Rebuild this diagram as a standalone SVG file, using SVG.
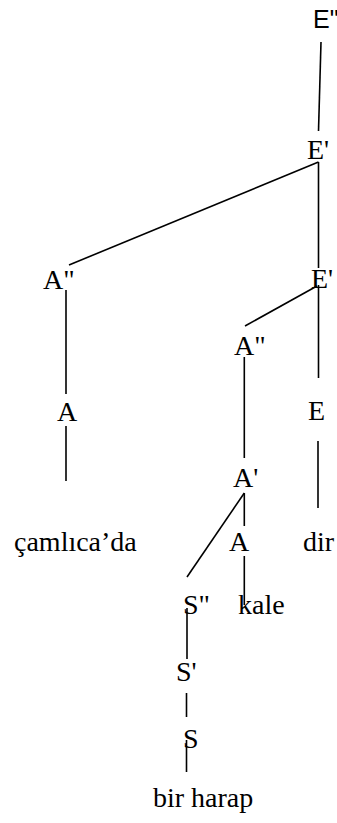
<svg xmlns="http://www.w3.org/2000/svg" width="337" height="823" viewBox="0 0 337 823">
<style>
.t{font-family:"Liberation Serif","Times New Roman",serif;font-size:28px;fill:#000}
.s{font-family:"Liberation Sans",Arial,sans-serif;font-size:25px;fill:#000}
.c line{stroke:#000;stroke-width:1.6;fill:none}
</style>
<rect width="337" height="823" fill="#fff"/>
<g class="c" id="connectors">
<line x1="321" y1="42" x2="318.5" y2="131"/>
<line x1="318.5" y1="162" x2="69" y2="265"/>
<line x1="318.5" y1="162" x2="318.5" y2="268"/>
<line x1="66" y1="290" x2="66" y2="394"/>
<line x1="66" y1="426" x2="66" y2="481"/>
<line x1="317" y1="286" x2="245" y2="326"/>
<line x1="318.5" y1="285" x2="318.5" y2="378"/>
<line x1="244.3" y1="357" x2="244.3" y2="458"/>
<line x1="318" y1="441" x2="318" y2="508"/>
<line x1="244.3" y1="493" x2="187" y2="577"/>
<line x1="244.3" y1="493" x2="244.3" y2="526"/>
<line x1="244.3" y1="556" x2="244.3" y2="605"/>
<line x1="187" y1="608" x2="187" y2="659"/>
<line x1="186.5" y1="693" x2="186.5" y2="717"/>
<line x1="186.5" y1="740" x2="186.5" y2="772"/>
</g>
<g id="n-E2"><text class="s" x="313" y="28">E"</text></g>
<g id="n-E1a"><text class="t" x="307" y="159">E'</text></g>
<g id="n-A2a"><text class="t" x="43" y="289">A"</text></g>
<g id="n-E1b"><text class="t" x="311" y="288">E'</text></g>
<g id="n-A2b"><text class="t" x="234" y="355">A"</text></g>
<g id="n-Aa"><text class="t" x="57" y="421">A</text></g>
<g id="n-E"><text class="t" x="308" y="420">E</text></g>
<g id="n-A1"><text class="t" x="233" y="487">A'</text></g>
<g id="n-camlica"><text class="t" x="14" y="551">çamlıca’da</text></g>
<g id="n-Ab"><text class="t" x="229" y="551">A</text></g>
<g id="n-dir"><text class="t" x="303" y="551">dir</text></g>
<g id="n-S2"><text class="t" x="183" y="614">S"</text></g>
<g id="n-kale"><text class="t" x="238" y="614">kale</text></g>
<g id="n-S1"><text class="t" x="176" y="681">S'</text></g>
<g id="n-S"><text class="t" x="183" y="748">S</text></g>
<g id="n-birharap"><text class="t" x="153" y="807">bir harap</text></g>
</svg>
